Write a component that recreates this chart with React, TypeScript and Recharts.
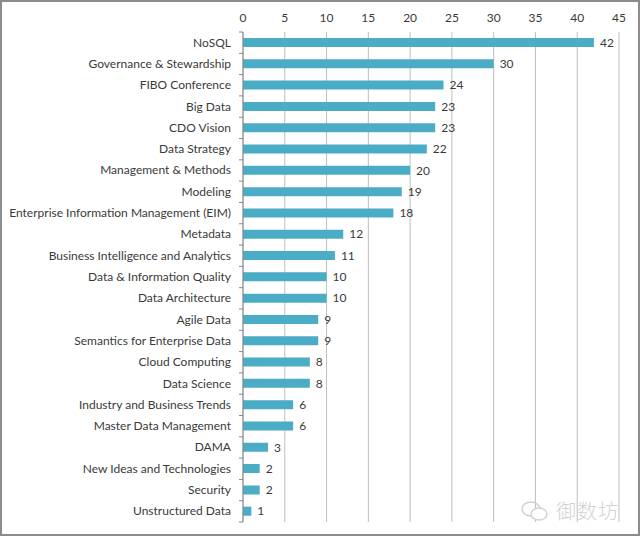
import { Bar, BarChart, CartesianGrid, LabelList, XAxis, YAxis } from "recharts";

const topics = [
  "NoSQL",
  "Governance & Stewardship",
  "FIBO Conference",
  "Big Data",
  "CDO Vision",
  "Data Strategy",
  "Management & Methods",
  "Modeling",
  "Enterprise Information Management (EIM)",
  "Metadata",
  "Business Intelligence and Analytics",
  "Data & Information Quality",
  "Data Architecture",
  "Agile Data",
  "Semantics for Enterprise Data",
  "Cloud Computing",
  "Data Science",
  "Industry and Business Trends",
  "Master Data Management",
  "DAMA",
  "New Ideas and Technologies",
  "Security",
  "Unstructured Data",
];

const counts = [42, 30, 24, 23, 23, 22, 20, 19, 18, 12, 11, 10, 10, 9, 9, 8, 8, 6, 6, 3, 2, 2, 1];

const xTicks = [0, 5, 10, 15, 20, 25, 30, 35, 40, 45];

const data = topics.map((name, i) => ({ name, value: counts[i] }));

const FONT = "Lato, 'Open Sans', sans-serif";
const TEXT = "#3a3a3a";

const CategoryTick = (props: any) => {
  const { x, y, payload, index } = props;
  const band = 489 / topics.length;
  const axisX = x + 12;
  return (
    <g>
      <line x1={axisX - 4} x2={axisX} y1={y - band / 2} y2={y - band / 2} stroke="#868686" />
      {index === topics.length - 1 && (
        <line x1={axisX - 4} x2={axisX} y1={y + band / 2} y2={y + band / 2} stroke="#868686" />
      )}
      <text x={x} y={y} dy={4} textAnchor="end" fill={TEXT} fontSize={12} fontFamily={FONT}>
        {payload.value}
      </text>
    </g>
  );
};

const App = () => {
  return (
    <div
      style={{
        position: "absolute",
        left: 0,
        top: 0,
        width: 640,
        height: 536,
        border: "2px solid #8c8c8c",
        boxSizing: "border-box",
        background: "#fff",
      }}
    >
      <div style={{ position: "absolute", left: -2, top: -2 }}>
        <BarChart
          width={640}
          height={536}
          data={data}
          layout="vertical"
          margin={{ top: 2, right: 21, bottom: 14, left: 0 }}
          barCategoryGap={0}
        >
          <CartesianGrid horizontal={false} stroke="#bfbfbf" strokeWidth={1} />
          <XAxis
            type="number"
            orientation="top"
            domain={[0, 45]}
            ticks={xTicks}
            axisLine={false}
            tickLine={false}
            height={30}
            tickMargin={4}
            tick={{ fill: TEXT, fontSize: 12, fontFamily: FONT }}
          />
          <YAxis
            type="category"
            dataKey="name"
            width={243}
            axisLine={{ stroke: "#868686" }}
            tickLine={false}
            tickMargin={6}
            tickSize={6}
            interval={0}
            tick={<CategoryTick />}
          />
          <Bar dataKey="value" fill="#4bacc6" barSize={9} isAnimationActive={false}>
            <LabelList
              dataKey="value"
              position="right"
              offset={6}
              fill={TEXT}
              fontSize={12}
              fontFamily={FONT}
            />
          </Bar>
        </BarChart>
      </div>
      <div
        style={{
          position: "absolute",
          left: 518,
          top: 494,
          display: "flex",
          alignItems: "center",
          gap: 6,
        }}
      >
        <svg width={30} height={22}>
          <ellipse cx={11} cy={9} rx={9} ry={7} fill="none" stroke="#d2d2d2" strokeWidth={1.5} />
          <ellipse cx={19} cy={14} rx={8} ry={6} fill="#fff" stroke="#d2d2d2" strokeWidth={1.5} />
        </svg>
        <span
          style={{
            fontFamily: "'Noto Sans CJK SC', sans-serif",
            fontWeight: 300,
            fontSize: 20,
            color: "#d2d2d2",
            letterSpacing: 1,
          }}
        >
          御数坊
        </span>
      </div>
    </div>
  );
};

export default App;
